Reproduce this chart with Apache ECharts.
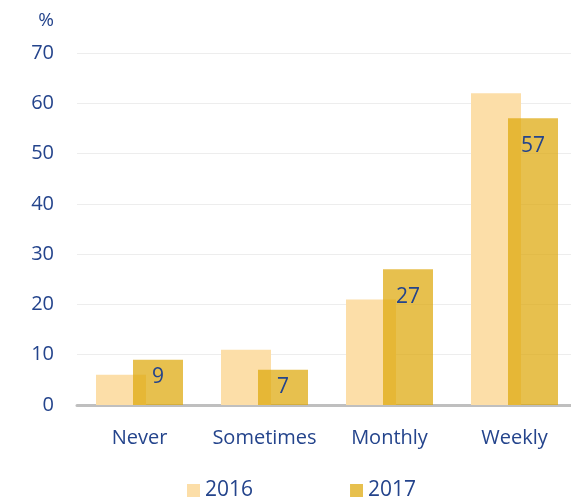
<!DOCTYPE html>
<html><head><meta charset="utf-8">
<script src="https://cdn.jsdelivr.net/npm/echarts@6/dist/echarts.min.js"></script>
<style>html,body{margin:0;padding:0;background:#fff;overflow:hidden}#c{width:577px;height:504px}</style>
</head><body><div id="c"></div>
<script>
const categories = ['Never', 'Sometimes', 'Monthly', 'Weekly'];
const values2016 = [6, 11, 21, 62];
const values2017 = [9, 7, 27, 57];
const seriesNames = ['2016', '2017'];
const yTicks = [0, 10, 20, 30, 40, 50, 60, 70];

const textColor = '#24448c';
const font = 'Open Sans';
const chart = echarts.init(document.getElementById('c'));
chart.setOption({
  animation: false,
  textStyle: { fontFamily: font },
  grid: { left: 77, top: 53, right: 0, bottom: 99, containLabel: false },
  legend: {
    bottom: -2, left: 182, itemGap: 97, itemWidth: 13, itemHeight: 13,
    icon: 'rect',
    textStyle: { color: textColor, fontSize: 21, fontFamily: font },
    data: seriesNames
  },
  xAxis: {
    type: 'category', data: categories,
    axisLine: { lineStyle: { color: '#bfbfbf', width: 3 } },
    axisTick: { show: false },
    axisLabel: { color: textColor, fontSize: 20, margin: 23, interval: 0, fontFamily: font }
  },
  yAxis: {
    type: 'value', min: yTicks[0], max: yTicks[yTicks.length - 1], interval: 10,
    name: '%', nameGap: 23,
    nameTextStyle: { color: textColor, fontSize: 19, align: 'right', padding: [0, 23, 0, 0], fontFamily: font },
    axisLine: { show: false }, axisTick: { show: false },
    axisLabel: { color: textColor, fontSize: 20, margin: 23, fontFamily: font },
    splitLine: { lineStyle: { color: '#ededed', width: 1 } }
  },
  series: [
    {
      name: seriesNames[0], type: 'bar', data: values2016,
      barWidth: 50, barGap: '-26%',
      itemStyle: { color: '#fcdea8' }
    },
    {
      name: seriesNames[1], type: 'bar',
      data: values2017.map(v => ({
        value: v,
        label: { distance: v < 10 ? 7 : 17 }
      })),
      barWidth: 50,
      itemStyle: { color: 'rgba(222,168,10,0.72)' },
      label: { show: true, position: 'insideTop', color: textColor, fontSize: 21, fontFamily: font }
    }
  ]
});
</script></body></html>
